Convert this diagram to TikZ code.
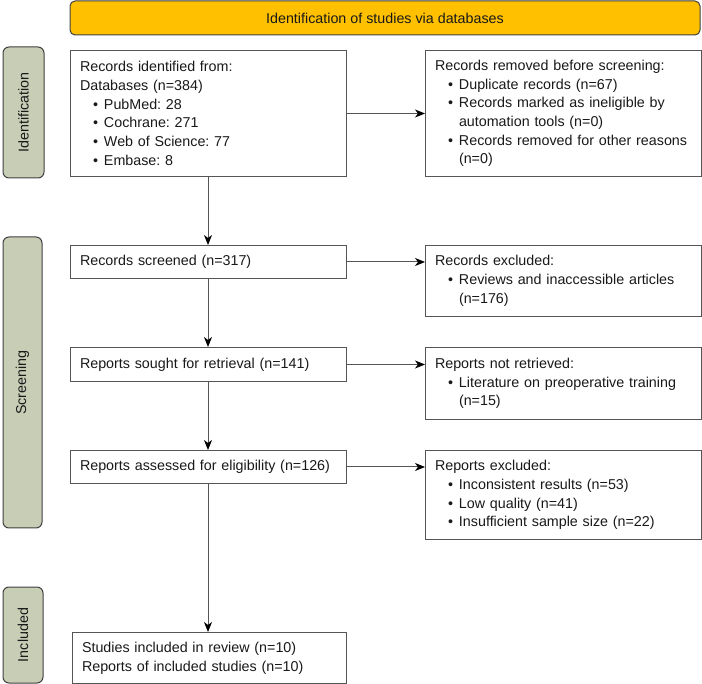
\documentclass[tikz,border=0pt]{standalone}
\usepackage{fontspec}
\setmainfont{Liberation Sans}
\usetikzlibrary{arrows.meta}
\definecolor{bannerc}{RGB}{255,192,0}
\definecolor{sidec}{RGB}{200,205,182}
\definecolor{linec}{RGB}{85,85,85}
\newcommand\nodefnt{\fontsize{14.3}{18.7}\selectfont\hyphenpenalty=10000\relax\frenchspacing}
\newcommand\bitem[1]{\par\noindent\hangindent=24pt\hangafter=1\hspace*{13pt}\makebox[11pt][l]{\textbullet}#1\par}
\begin{document}
\begin{tikzpicture}[x=1pt,y=-1pt,
  every node/.style={font=\nodefnt, text=black!90},
  box/.style={draw=linec, line width=1pt, fill=white, align=left, inner xsep=9.5pt, inner ysep=0pt, anchor=north west},
  side/.style={draw=black!75, line width=1pt, fill=sidec, rounded corners=6pt, rotate=90, inner sep=0pt},
  arr/.style={draw=linec, line width=1pt, -{Stealth[length=10pt,width=8pt,inset=3pt,color=black]}}]
\useasboundingbox (0,0) rectangle (702,684);
% banner
\node[draw=black!75, line width=1pt, fill=bannerc, rounded corners=5pt, minimum width=630pt, minimum height=34pt, inner sep=0pt] (banner) at (385,18) {Identification of studies via databases};
% side labels
\node[side, minimum width=131pt, minimum height=41pt] (sid) at (23.5,112.5) {Identification};
\node[side, minimum width=291pt, minimum height=39pt] (sscr) at (22.5,382.5) {Screening};
\node[side, minimum width=96pt, minimum height=40pt] (sinc) at (23,635) {Included};
% left column
\node[box, text width=257pt, minimum height=126pt] (rid) at (70,50) {Records identified from:\par\noindent Databases (n=384)\bitem{PubMed: 28}\bitem{Cochrane: 271}\bitem{Web of Science: 77}\bitem{Embase: 8}};
\node[box, text width=257pt, minimum height=33pt] (scr) at (70,245) {Records screened (n=317)};
\node[box, text width=257pt, minimum height=34pt] (sou) at (70,347) {Reports sought for retrieval (n=141)};
\node[box, text width=257pt, minimum height=33pt] (ass) at (70,450) {Reports assessed for eligibility (n=126)};
\node[box, text width=255pt, minimum height=51pt] (inc) at (72,632) {Studies included in review (n=10)\par\noindent Reports of included studies (n=10)};
% right column
\node[box, text width=257pt, minimum height=126pt] (rem) at (425,50) {Records removed before screening:\bitem{Duplicate records (n=67)}\bitem{Records marked as ineligible by\newline automation tools (n=0)}\bitem{Records removed for other reasons\newline (n=0)}};
\node[box, text width=257pt, minimum height=71pt] (exc) at (425,245) {Records excluded:\bitem{Reviews and inaccessible articles\newline (n=176)}};
\node[box, text width=257pt, minimum height=72pt] (nrt) at (425,347) {Reports not retrieved:\bitem{Literature on preoperative training\newline (n=15)}};
\node[box, text width=257pt, minimum height=89pt] (rex) at (425,450) {Reports excluded:\bitem{Inconsistent results (n=53)}\bitem{Low quality (n=41)}\bitem{Insufficient sample size (n=22)}};
% vertical arrows
\coordinate (c1) at (208,0);
\draw[arr] (rid.south -| c1) -- (scr.north -| c1);
\draw[arr] (scr.south -| c1) -- (sou.north -| c1);
\draw[arr] (sou.south -| c1) -- (ass.north -| c1);
\draw[arr] (ass.south -| c1) -- (inc.north -| c1);
% horizontal arrows
\draw[arr] (rid.east) -- (rid.east -| rem.west);
\draw[arr] (scr.east) -- (scr.east -| exc.west);
\draw[arr] (sou.east) -- (sou.east -| nrt.west);
\draw[arr] (ass.east) -- (ass.east -| rex.west);
\end{tikzpicture}
\end{document}
